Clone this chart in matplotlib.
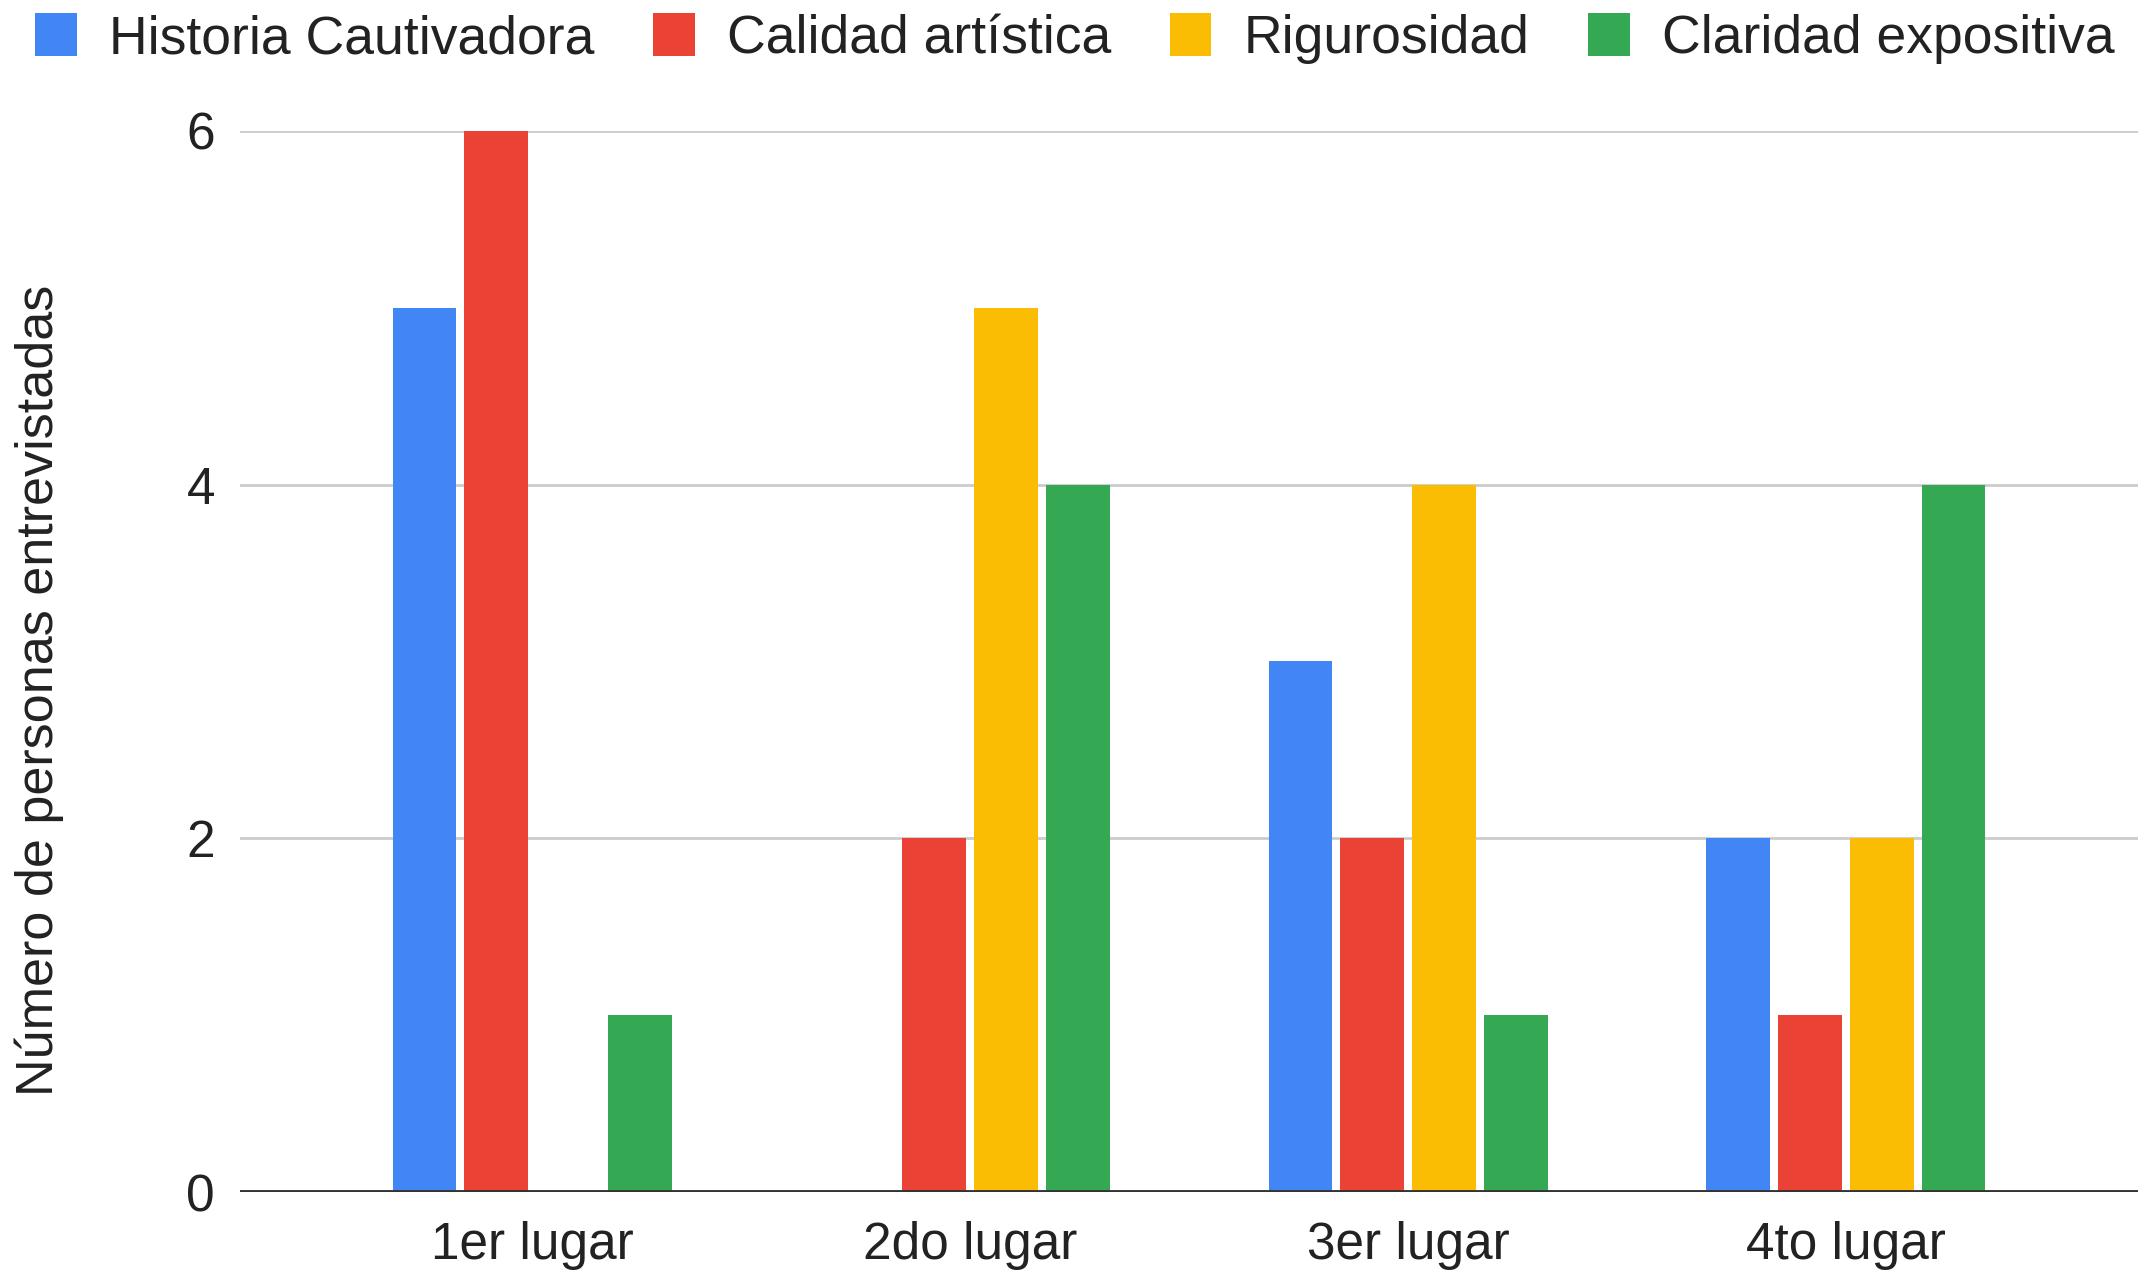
import numpy as np
import matplotlib
matplotlib.use("Agg")
import matplotlib.pyplot as plt
from matplotlib.patches import Patch

plt.rcParams['font.family'] = ['Liberation Sans', 'DejaVu Sans']

categorias = ["1er lugar", "2do lugar", "3er lugar", "4to lugar"]
series = ["Historia Cautivadora", "Calidad artística", "Rigurosidad", "Claridad expositiva"]
historia = [5, 0, 3, 2]
calidad = [6, 2, 2, 1]
rigurosidad = [0, 5, 4, 2]
claridad = [1, 4, 1, 4]
colores = ["#4285F4", "#EA4335", "#FBBC04", "#34A853"]

valores = [historia, calidad, rigurosidad, claridad]

fig = plt.figure(figsize=(21.56, 12.83), dpi=100)
ax = fig.add_axes([0.1113, 0.0709, 0.8804, 0.8271])

x = np.arange(len(categorias))
paso = 0.164
ancho = 0.145
for i, (vals, col) in enumerate(zip(valores, colores)):
    ax.bar(x + (i - 1.5) * paso, vals, width=ancho, color=col, zorder=3)

ax.set_xlim(-0.667, 3.667)
ax.set_ylim(0, 6)
ax.set_yticks([0, 2, 4, 6])
ax.yaxis.grid(True, color="#cccccc", linewidth=2, zorder=0)
ax.axhline(0, color="#333333", linewidth=3.5, zorder=4)
for s in ax.spines.values():
    s.set_visible(False)
ax.set_xticks(x)
ax.set_xticklabels(categorias)
ax.tick_params(axis="both", length=0, labelsize=37, labelcolor="#222222")
ax.tick_params(axis="y", pad=18)
ax.tick_params(axis="x", pad=21)
ax.set_ylabel("Número de personas entrevistadas", fontsize=37.5, color="#222222", labelpad=88)
ax.yaxis.label.set_y(0.473)

handles = [Patch(facecolor=c, edgecolor="none") for c in colores]
fig.legend(handles, series, loc="upper center", bbox_to_anchor=(0.4985, 1.027), ncol=4,
           frameon=False, fontsize=38.5, handlelength=0.78, handleheight=0.85,
           handletextpad=0.6, columnspacing=1.1, labelcolor="#222222")

fig.savefig("out.png", dpi=100)
